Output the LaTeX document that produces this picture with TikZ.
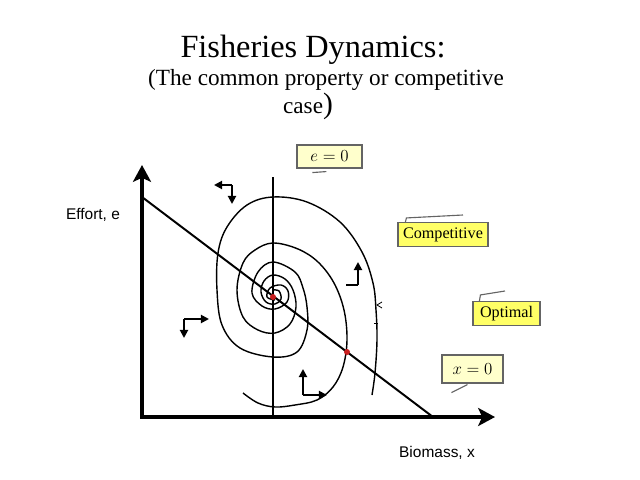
\documentclass[tikz,border=0pt]{standalone}
\usepackage{fontspec}
\setmainfont{Liberation Serif}
\setsansfont{Liberation Sans}
\usetikzlibrary{arrows.meta,positioning}
\definecolor{notepale}{RGB}{255,255,204}
\definecolor{noteyellow}{RGB}{255,255,102}
\definecolor{noteedge}{RGB}{100,100,100}
\definecolor{eqred}{RGB}{200,30,30}

\begin{document}
\begin{tikzpicture}[
  x=0.025cm, y=-0.025cm,
  axis/.style={line width=2.8pt, line cap=rect, -{Stealth[length=0.42cm, width=0.45cm, inset=0.1cm]}},
  isocline/.style={line width=1.4pt},
  traj/.style={line width=1pt},
  phase/.style={line width=1.3pt, -{Triangle[length=0.2cm, width=0.2cm]}},
  note/.style={rectangle, draw=noteedge, line width=0.8pt, fill=notepale, minimum height=0.575cm, inner sep=1pt, font=\large},
  tag/.style={rectangle, draw=noteedge, line width=0.8pt, fill=noteyellow, minimum height=0.6cm, inner sep=1pt, font=\fontsize{11.5}{13}\selectfont},
  lbl/.style={font=\sffamily\fontsize{11}{13}\selectfont},
  eq/.style={circle, fill=eqred, inner sep=0pt, minimum size=0.15cm},
  callout/.style={line width=0.8pt, noteedge}
]
  \useasboundingbox (0,0) rectangle (640,480);

  % --- 1. TITLE ---
  \node[font=\fontsize{23}{27}\selectfont] (title) at (313,50) {Fisheries Dynamics:};
  \node[font=\fontsize{16.5}{19}\selectfont] (subtitle) at (326,80) {(The common property or competitive};
  \node[font=\fontsize{16.5}{19}\selectfont] (subcase) at (308,106) {case{\fontsize{21}{19}\selectfont)}};

  % --- 2. TRAJECTORIES (spiral into the steady state) ---
  \draw[traj] plot[smooth, tension=0.6] coordinates {
    (243,393) (258,403) (275,407) (295,405) (317,400) (333,387) (343,367)
    (347,340) (344,310) (334,283) (318,262) (298,249) (273,243) (255,250)
    (243,263) (237,290) (243,317) (258,330) (275,333) (290,324) (296,307)
    (293,290) (285,279) (273,275) (264,281) (261,292) (266,302) (275,304)
    (281,299) (279,291) (273,290)};
  \draw[traj] plot[smooth, tension=0.6] coordinates {
    (372,395) (375,373) (377,340) (376,310) (373,283) (362,252) (340,222)
    (307,202) (273,197) (247,205) (227,227) (218,253) (217,290) (222,325)
    (240,348) (273,357) (297,352) (307,330) (307,307) (303,288) (295,272)
    (273,262) (258,272) (252,293) (262,306) (275,309) (287,302) (288,291)
    (281,285) (270,288) (267,297) (275,300)};
  % small ticks on the outer trajectory
  \draw[line width=0.6pt] (382,302) -- (377,305) -- (382,308);
  \draw[line width=0.6pt] (374,323) -- (378,323);

  % --- 3. AXES AND ISOCLINES ---
  \coordinate (origin) at (142,417);
  \coordinate (ytip) at (142,165);
  \coordinate (xtip) at (495,417);
  \coordinate (diagtop) at (142,197);
  \coordinate (diagend) at (433,417);
  \coordinate (verttop) at (273,177);
  \coordinate (vertend) at (273,417);

  \draw[isocline] (diagtop) -- (diagend);
  \draw[isocline] (verttop) -- (vertend);
  \draw[axis] (origin) -- (ytip);
  \draw[axis] (origin) -- (xtip);

  \node[lbl] (effort) at (93,215) {Effort, e};
  \node[lbl] (biomass) at (437,453) {Biomass, x};

  % steady states
  \node[eq] (steady) at (273,297) {};
  \node[eq] (opteq) at (347,352) {};

  % --- 4. PHASE ARROWS ---
  \coordinate (pa) at (232,185);
  \draw[phase] (pa) -- ++(-18,0);
  \draw[phase] (pa) -- ++(0,19);
  \coordinate (pb) at (184,319);
  \draw[phase] (pb) -- ++(25,0);
  \draw[phase] (pb) -- ++(0,19);
  \coordinate (pc) at (358,285);
  \draw[line width=1.3pt] (pc) -- ++(-12,0);
  \draw[phase] (pc) -- ++(0,-23);
  \coordinate (pd) at (303,395);
  \draw[phase] (pd) -- ++(0,-26);
  \draw[phase] (pd) -- ++(24,0);

  % --- 5. NOTES ---
  \node[note, minimum width=1.625cm] (edot) at (329.5,156.5) {$e=0$};
  \node[tag, minimum width=2.25cm] (comp) at (443,234.5) {Competitive};
  \node[tag, minimum width=1.675cm] (opt) at (506.5,313.5) {Optimal};
  \node[note, minimum width=1.525cm, minimum height=0.7cm] (xdot) at (472.5,369) {$x=0$};

  \draw[callout] ([shift={(16,4)}]edot.south west) -- ++(14,-1);
  \coordinate (comptail) at (463,215);
  \draw[callout] ([xshift=0.2cm]comp.north west) -- ++(1,-4) -- (comptail);
  \coordinate (opttail) at (505,291);
  \draw[callout] ([xshift=0.175cm]opt.north west) -- ++(1,-6) -- (opttail);
  \draw[callout] ([shift={(26,1)}]xdot.south west) -- ++(-16,8);

\end{tikzpicture}
\end{document}
